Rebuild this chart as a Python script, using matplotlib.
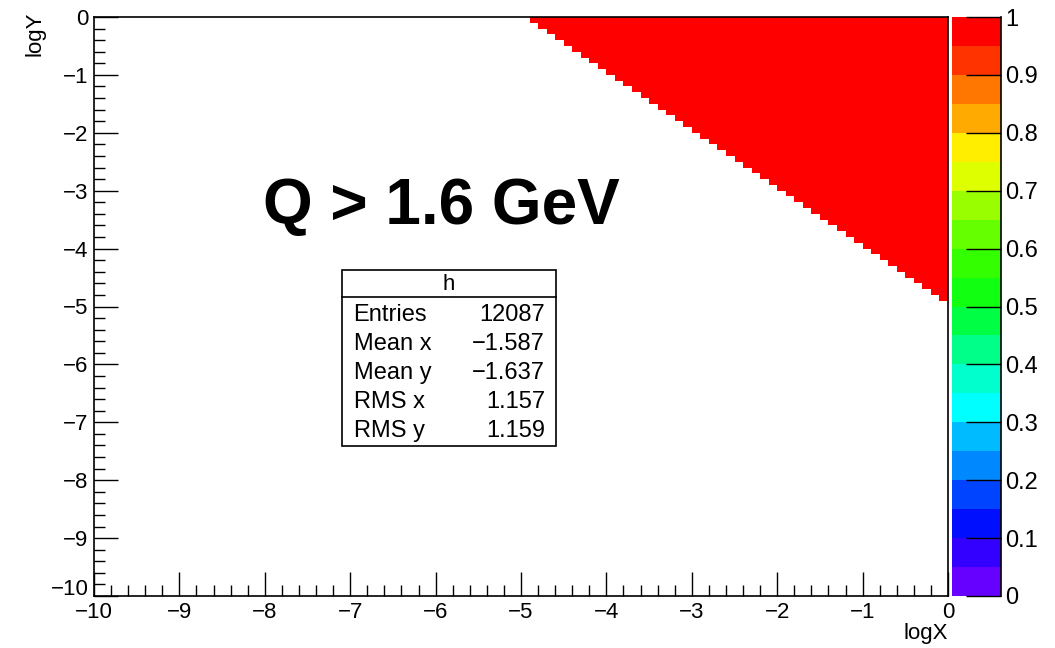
import numpy as np
import matplotlib
matplotlib.use("Agg")
import matplotlib.pyplot as plt
from matplotlib.colors import ListedColormap, BoundaryNorm
from matplotlib.patches import Rectangle
from matplotlib.lines import Line2D
from matplotlib.ticker import MultipleLocator, FixedLocator, FuncFormatter

plt.rcParams['font.family'] = ['Liberation Sans', 'DejaVu Sans']

# ---- data ----
n_bins = 100
x_range = [-10.0, 0.0]
y_range = [-10.0, 0.0]
cut_sum = -5.0          # bins with logX_low + logY_low >= cut are filled (Q > 1.6 GeV)
fill_value = 1.0
palette_hex = ["#6600FF", "#3300FF", "#0010FF", "#0044FF", "#0088FF",
               "#00BBFF", "#00FFFF", "#00FFCC", "#00FF88", "#00FF44",
               "#11FF11", "#33FF00", "#66FF00", "#99FF00", "#DDFF00",
               "#FFEE00", "#FFAA00", "#FF7700", "#FF3300", "#FF0000"]
z_levels = np.linspace(0, 1, 21)
cbar_ticks = [0, 0.1, 0.2, 0.3, 0.4, 0.5, 0.6, 0.7, 0.8, 0.9, 1.0]
cbar_labels = ["0", "0.1", "0.2", "0.3", "0.4", "0.5", "0.6", "0.7", "0.8", "0.9", "1"]
stats_names = ["Entries", "Mean x", "Mean y", "RMS x", "RMS y"]
stats_values = ["12087", "\u22121.587", "\u22121.637", "1.157", "1.159"]
hist_name = "h"
annotation = "Q > 1.6 GeV"

# ---- grid ----
x_edges = np.linspace(x_range[0], x_range[1], n_bins + 1)
y_edges = np.linspace(y_range[0], y_range[1], n_bins + 1)
XL, YL = np.meshgrid(x_edges[:-1], y_edges[:-1])
Z = np.where(XL + YL >= cut_sum - 1e-9, fill_value, np.nan)
Z = np.ma.masked_invalid(Z)

W, H = 1055, 648
fig = plt.figure(figsize=(W / 100, H / 100), dpi=100)
fig.patch.set_facecolor("white")

FS = 16

px_l, px_r, px_t, px_b = 94, 948, 17, 596
ax = fig.add_axes([px_l / W, 1 - px_b / H, (px_r - px_l) / W, (px_b - px_t) / H])
cax = fig.add_axes([952 / W, 1 - px_b / H, 49 / W, (px_b - px_t) / H])

cmap = ListedColormap(palette_hex)
cmap.set_over(palette_hex[-1])
cmap.set_under(palette_hex[0])
norm = BoundaryNorm(z_levels, cmap.N)

mesh = ax.pcolormesh(x_edges, y_edges, Z, cmap=cmap, norm=norm,
                     shading="flat", antialiased=False, linewidth=0)
ax.set_xlim(x_range)
ax.set_ylim(y_range)


def fmt_int(v, pos):
    return f"{int(round(v))}".replace("-", "\u2212")


def fmt_y(v, pos):
    if abs(v - y_range[0]) < 1e-6:
        return ""
    return fmt_int(v, pos)


ax.xaxis.set_major_locator(MultipleLocator(1))
ax.xaxis.set_minor_locator(MultipleLocator(0.2))
ax.yaxis.set_major_locator(MultipleLocator(1))
ax.yaxis.set_minor_locator(MultipleLocator(0.2))
ax.xaxis.set_major_formatter(FuncFormatter(fmt_int))
ax.yaxis.set_major_formatter(FuncFormatter(fmt_y))
ax.tick_params(which="both", direction="in", top=False, right=False,
               width=1.0, color="black")
ax.tick_params(which="major", length=17, labelsize=FS)
ax.tick_params(which="minor", length=8)
ax.tick_params(axis="x", pad=4)
ax.tick_params(axis="y", pad=4)
for s in ax.spines.values():
    s.set_linewidth(1.2)

# lowest y label, nudged up so it does not collide with the x label
ax.annotate(fmt_int(y_range[0], 0), xy=(0, y_range[0]), xycoords=ax.get_yaxis_transform(),
            xytext=(-5.6, -4), textcoords="offset pixels", ha="right", va="bottom",
            fontsize=FS, annotation_clip=False)

# axis titles
fig.text(35 / W, 1 - 12 / H, "logY", rotation=90, ha="center", va="top", fontsize=FS)
fig.text(px_r / W, 1 - 634 / H, "logX", ha="right", va="center", fontsize=FS)

# big annotation
ax.text(0.407, 0.672, annotation, transform=ax.transAxes, ha="center", va="center",
        fontsize=46, fontweight="bold")

# stats box
bx0, bx1, by0, by1 = 0.290, 0.541, 0.259, 0.563
ax.add_patch(Rectangle((bx0, by0), bx1 - bx0, by1 - by0, transform=ax.transAxes,
                       facecolor="white", edgecolor="black", linewidth=1.2, zorder=5))
ax.add_line(Line2D([bx0, bx1], [0.516, 0.516], transform=ax.transAxes,
                   color="black", linewidth=1.2, zorder=6))
ax.text((bx0 + bx1) / 2, 0.538, hist_name, transform=ax.transAxes, ha="center",
        va="center", fontsize=FS, zorder=7)
row_y = [0.485, 0.435, 0.385, 0.335, 0.285]
for name, val, yy in zip(stats_names, stats_values, row_y):
    ax.text(0.304, yy, name, transform=ax.transAxes, ha="left", va="center",
            fontsize=FS + 1, zorder=7)
    ax.text(0.528, yy, val, transform=ax.transAxes, ha="right", va="center",
            fontsize=FS + 1, zorder=7)

# colour bar
cb = fig.colorbar(mesh, cax=cax, boundaries=z_levels, extend="neither")
cb.outline.set_visible(False)
cb.set_ticks(cbar_ticks)
cb.set_ticklabels(cbar_labels)
cax.yaxis.set_minor_locator(FixedLocator([]))
cax.tick_params(which="major", direction="in", length=25, width=1.0,
                labelsize=FS + 1, right=True, left=False, pad=3)
cax.add_line(Line2D([1, 1], [0, 1], transform=cax.transAxes, color="black",
                    linewidth=1.2, clip_on=False))

fig.savefig("out.png", dpi=100)
